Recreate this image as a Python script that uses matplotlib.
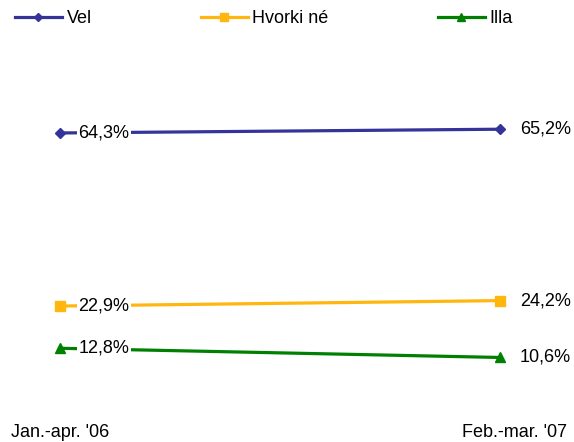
import matplotlib
matplotlib.use('Agg')
import matplotlib.pyplot as plt
import matplotlib.transforms as mtransforms

plt.rcParams['font.family'] = ['Liberation Sans', 'DejaVu Sans']

periods = ["Jan.-apr. '06", "Feb.-mar. '07"]
series = ['Vel', 'Hvorki né', 'Illa']
vel = [64.3, 65.2]
hvorki = [22.9, 24.2]
illa = [12.8, 10.6]

colors = ['#333399', '#FFB60F', '#008000']
markers = ['D', 's', '^']
msizes = [5, 7, 7]

fig = plt.figure(figsize=(5.74, 4.42), dpi=100)
ax = fig.add_axes([0.0, 0.07, 1.0, 0.85])

x = [0, 1]
for name, vals, c, m, ms in zip(series, [vel, hvorki, illa], colors, markers, msizes):
    ax.plot(x, vals, color=c, lw=2.3, marker=m, markersize=ms, label=name)
    # left label sits on the line with a white background
    ax.text(0.1, vals[0], f'{vals[0]:.1f}%'.replace('.', ','), ha='center', va='center',
            fontsize=13, bbox=dict(facecolor='white', edgecolor='none', pad=1), zorder=5)
    ax.text(1.045, vals[1], f'{vals[1]:.1f}%'.replace('.', ','), ha='left', va='center',
            fontsize=13)

ax.set_xlim(-0.136, 1.168)
ax.set_ylim(-2.22, 87.65)
ax.set_xticks(x)
ax.set_xticklabels(periods, fontsize=13)
ax.tick_params(axis='x', length=0, pad=9)
ax.set_yticks([])
for s in ax.spines.values():
    s.set_visible(False)

# second period label sits a bit further right
lab = ax.get_xticklabels()[1]
lab.set_transform(lab.get_transform() + mtransforms.ScaledTranslation(14 / 100, 0, fig.dpi_scale_trans))

fig.legend(loc='upper left', bbox_to_anchor=(15 / 574, 1 - 10 / 442), ncol=3, frameon=False,
           fontsize=13, handlelength=2.6, handletextpad=0.25, columnspacing=6.05,
           borderpad=0, borderaxespad=0, markerscale=0.8)

fig.savefig('out.png', dpi=100)
